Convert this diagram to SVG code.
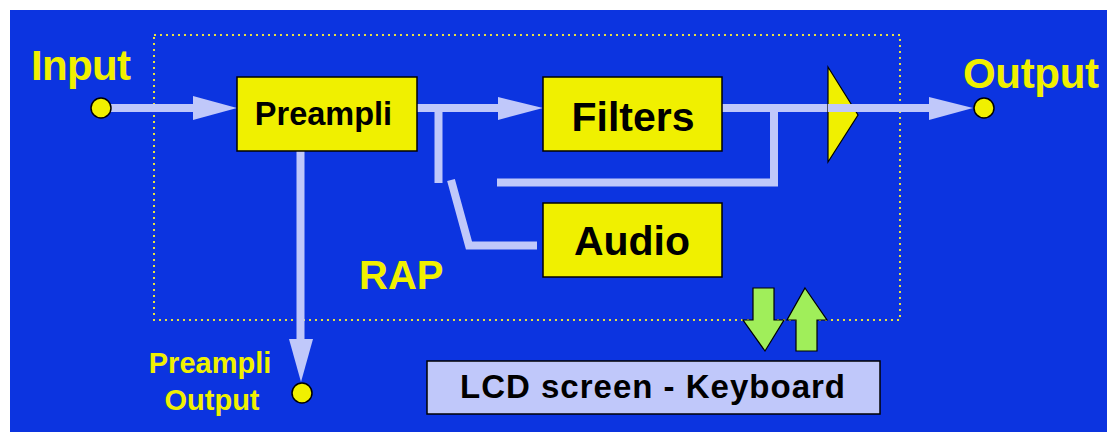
<svg xmlns="http://www.w3.org/2000/svg" width="1107" height="432" viewBox="0 0 1107 432">
<style>
.lbl{font-family:"Liberation Sans",Arial,sans-serif;font-weight:bold;fill:#f0f000}
.txt{font-family:"Liberation Sans",Arial,sans-serif;font-weight:bold;fill:#000}
.box{fill:#f0f000;stroke:#000;stroke-width:1.5}
.wire{fill:none;stroke:#c0c8fa;stroke-width:8}
.head{fill:#c0c8fa}
.dot{fill:#f0f000;stroke:#000;stroke-width:1.5}
.garrow{fill:#a0ee5a;stroke:#000;stroke-width:1.2}
</style>
<rect x="0" y="0" width="1107" height="432" fill="#fff"/>
<rect x="10" y="10" width="1097" height="422" fill="#0c34e0"/>
<rect id="rap-frame" x="154" y="35" width="746" height="285" fill="none" stroke="#e8e040" stroke-width="2" stroke-dasharray="2 4"/>
<text class="lbl" x="359" y="289" font-size="40">RAP</text>
<text class="lbl" x="31" y="80" font-size="42" textLength="100">Input</text>
<text class="lbl" x="963" y="88" font-size="42" textLength="136">Output</text>
<g id="connectors">
<path class="wire" d="M110,108 H200"/>
<polygon class="head" points="193,96 237,108 193,120"/>
<path class="wire" d="M417,108 H505"/>
<polygon class="head" points="498,97 543,108 498,120"/>
<path class="wire" d="M438.5,108 V183"/>
<path class="wire" d="M722,108 H936"/>
<path class="wire" d="M497,182.5 H774 V108"/>
<path class="wire" d="M451,180 L469,245.5 H537"/>
<polygon class="head" points="929,97 973,108 929,120"/>
<path class="wire" d="M300.5,151 V345"/>
<polygon class="head" points="289,339 313,339 301,382"/>
</g>
<g id="amp">
<polygon points="828,67 858,115 828,162" fill="#f0f000" stroke="#000" stroke-width="1.2"/>
<path class="wire" d="M828,108 H936"/>
</g>
<g id="input-dot"><circle class="dot" cx="101" cy="108" r="10"/></g>
<g id="output-dot"><circle class="dot" cx="984" cy="108" r="10"/></g>
<g id="preampli-output-dot"><circle class="dot" cx="302" cy="393" r="10"/></g>
<g id="preampli-output-label">
<text class="lbl" x="210" y="373" font-size="29" text-anchor="middle">Preampli</text>
<text class="lbl" x="212" y="410" font-size="29" text-anchor="middle">Output</text>
</g>
<g id="preampli">
<rect class="box" x="237" y="77" width="180" height="74"/>
<text class="txt" x="323.5" y="125" font-size="32.5" text-anchor="middle">Preampli</text>
</g>
<g id="filters">
<rect class="box" x="543" y="77" width="179" height="74"/>
<text class="txt" x="633" y="131" font-size="41" text-anchor="middle">Filters</text>
</g>
<g id="audio">
<rect class="box" x="543" y="203" width="179" height="74"/>
<text class="txt" x="632" y="255" font-size="41" text-anchor="middle">Audio</text>
</g>
<g id="lcd">
<rect x="427" y="361" width="453" height="53" fill="#c0c8fa" stroke="#000" stroke-width="1.5"/>
<text class="txt" x="460" y="398" font-size="33" textLength="385" lengthAdjust="spacing">LCD screen - Keyboard</text>
</g>
<g id="io-arrows">
<polygon class="garrow" points="753,288 774,288 774,320 784,320 765,351 743,320 753,320"/>
<polygon class="garrow" points="805,288 827,320 817,320 817,351 796,351 796,320 787,320"/>
</g>
</svg>
